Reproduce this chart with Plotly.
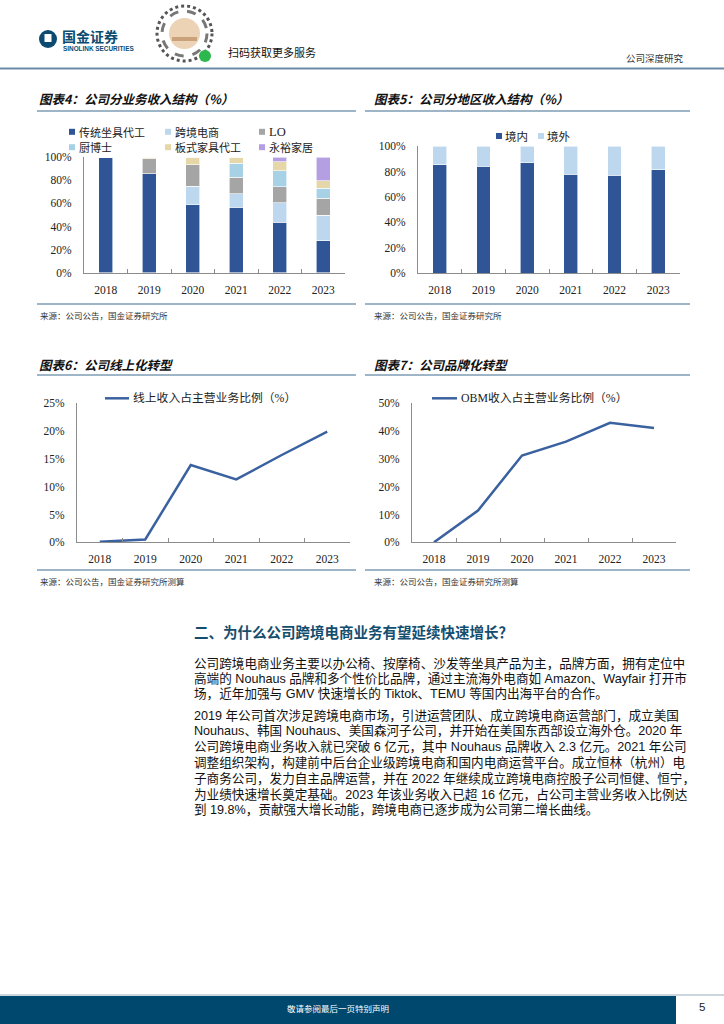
import plotly.graph_objects as go

W, H = 724, 1024

# ---------------- data ----------------
years = ["2018", "2019", "2020", "2021", "2022", "2023"]

seg_names = ["传统坐具代工", "跨境电商", "LO", "厨博士", "板式家具代工", "永裕家居"]
seg_traditional = [100.0, 85.8, 59.0, 56.9, 43.9, 27.5]
seg_crossborder = [0.0, 0.0, 15.9, 11.6, 16.8, 22.2]
seg_lo = [0.0, 13.0, 18.7, 14.2, 13.6, 15.0]
seg_chuboshi = [0.0, 0.0, 0.0, 12.1, 13.9, 8.4]
seg_panel = [0.0, 1.2, 6.4, 5.2, 7.8, 6.4]
seg_yongyu = [0.0, 0.0, 0.0, 0.0, 4.0, 20.5]
seg_colors = ["#2f5597", "#bdd7ee", "#a5a5a5", "#a7d2e6", "#e6d7a9", "#b39fe2"]

region_names = ["境内", "境外"]
region_domestic = [85.3, 84.2, 87.1, 77.9, 77.1, 81.3]
region_overseas = [14.7, 15.8, 12.9, 22.1, 22.9, 18.7]
region_colors = ["#2f5597", "#bdd7ee"]

online_name = "线上收入占主营业务比例（%）"
online_share = [0.1, 0.5, 13.9, 11.3, 15.7, 19.9]

obm_name = "OBM收入占主营业务比例（%）"
obm_share = [0.0, 11.4, 31.2, 36.2, 43.0, 41.1]

line_color = "#3b62a0"

# ---------------- helpers ----------------
def X(px):
    return px / W


def Y(py):
    return 1 - py / H


SERIF = "Liberation Serif, Times New Roman, serif"
CJK = "Noto Sans CJK SC"
BODY = "Liberation Sans, Noto Sans CJK SC"

fig = go.Figure()

seg_values = [seg_traditional, seg_crossborder, seg_lo, seg_chuboshi, seg_panel, seg_yongyu]
for name, vals, col in zip(seg_names, seg_values, seg_colors):
    fig.add_trace(go.Bar(x=years, y=vals, name=name, marker=dict(color=col, line=dict(color="white", width=0.6)),
                         xaxis="x", yaxis="y", showlegend=False))

for name, vals, col in zip(region_names, [region_domestic, region_overseas], region_colors):
    fig.add_trace(go.Bar(x=years, y=vals, name=name, marker=dict(color=col, line=dict(color="white", width=0.6)),
                         xaxis="x2", yaxis="y2", showlegend=False))

fig.add_trace(go.Scatter(x=years, y=online_share, mode="lines", name=online_name,
                         line=dict(color=line_color, width=2.5), xaxis="x3", yaxis="y3", showlegend=False))
fig.add_trace(go.Scatter(x=years, y=obm_share, mode="lines", name=obm_name,
                         line=dict(color=line_color, width=2.5), xaxis="x4", yaxis="y4", showlegend=False))

axis_line = "#8c8c8c"
tickfont = dict(family=SERIF, size=11.5, color="#222")


def xax(x0, x1, anchor):
    return dict(domain=[X(x0), X(x1)], anchor=anchor, type="category", range=[-0.5, 5.5],
                tickson="boundaries", ticks="inside", ticklen=4, tickcolor=axis_line,
                showline=True, linecolor=axis_line, linewidth=1, showgrid=False, zeroline=False,
                tickfont=tickfont, ticklabelstandoff=6, fixedrange=True, automargin=False)


def yax(y0, y1, anchor, rng, dtick):
    return dict(domain=[Y(y0), Y(y1)], anchor=anchor, range=rng, dtick=dtick, ticksuffix="%",
                showline=True, linecolor=axis_line, linewidth=1, showgrid=False, zeroline=False,
                ticks="", tickfont=tickfont, ticklabelstandoff=9, fixedrange=True, automargin=False)


fig.update_layout(
    template="none",
    width=W, height=H, autosize=False,
    margin=dict(l=0, r=0, t=0, b=0, pad=0),
    paper_bgcolor="white", plot_bgcolor="white",
    barmode="stack", bargap=0.68, showlegend=False,
    xaxis=xax(84, 345, "y"), yaxis=yax(272.7, 157.3, "x", [0, 100], 20),
    xaxis2=xax(418, 680, "y2"), yaxis2=yax(273, 146.3, "x2", [0, 100], 20),
    xaxis3=xax(77, 350, "y3"), yaxis3=yax(542.3, 403.3, "x3", [0, 25], 5),
    xaxis4=xax(412, 676, "y4"), yaxis4=yax(542.3, 403.3, "x4", [0, 50], 10),
)

shapes = []
ann = []


def hline(x0, x1, y, color, width):
    shapes.append(dict(type="line", xref="paper", yref="paper", x0=X(x0), x1=X(x1), y0=Y(y), y1=Y(y),
                       line=dict(color=color, width=width)))


def text(x, y, s, size, color="#222", family=CJK, xanchor="left", weight="normal", style="normal"):
    ann.append(dict(xref="paper", yref="paper", x=X(x), y=Y(y), text=s, showarrow=False,
                    xanchor=xanchor, yanchor="middle", borderpad=0,
                    font=dict(family=family, size=size, color=color, weight=weight, style=style)))


def square(x, y, color, s=6):
    shapes.append(dict(type="rect", xref="paper", yref="paper", x0=X(x), x1=X(x + s),
                       y0=Y(y + s / 2), y1=Y(y - s / 2), fillcolor=color, line=dict(width=0)))


# ---------------- header ----------------
shapes.append(dict(type="circle", xref="paper", yref="paper", x0=X(39), x1=X(57), y0=Y(48), y1=Y(30),
                   fillcolor="#0c4a70", line=dict(width=0)))
shapes.append(dict(type="rect", xref="paper", yref="paper", x0=X(44.5), x1=X(51.5), y0=Y(42), y1=Y(34),
                   fillcolor="white", line=dict(width=0)))
text(61, 35.5, "国金证券", 14, color="#0c4a70", weight="bold")
text(61.5, 48.5, "SINOLINK SECURITIES", 6.4, color="#0c4a70", family="Liberation Sans", weight="bold")
shapes.append(dict(type="circle", xref="paper", yref="paper", x0=X(157), x1=X(212), y0=Y(61), y1=Y(6),
                   fillcolor="white", line=dict(color="#555", width=3, dash="dot")))
shapes.append(dict(type="circle", xref="paper", yref="paper", x0=X(162), x1=X(207), y0=Y(56), y1=Y(11),
                   fillcolor="white", line=dict(color="#777", width=3, dash="dash")))
shapes.append(dict(type="circle", xref="paper", yref="paper", x0=X(169), x1=X(200), y0=Y(49), y1=Y(18),
                   fillcolor="#ecd3b6", line=dict(width=0)))
shapes.append(dict(type="rect", xref="paper", yref="paper", x0=X(172), x1=X(197), y0=Y(41), y1=Y(37),
                   fillcolor="#c9a27c", line=dict(width=0)))
shapes.append(dict(type="circle", xref="paper", yref="paper", x0=X(199), x1=X(211), y0=Y(62), y1=Y(50),
                   fillcolor="#2cb84c", line=dict(width=0)))
text(227, 52, "扫码获取更多服务", 11, color="#111")
text(655, 58, "公司深度研究", 9.5, color="#333", xanchor="center")
hline(0, 724, 68.5, "#6a8aa6", 2)

# ---------------- chart titles & frames ----------------
title_kw = dict(size=12.5, color="#111", weight="bold", style="italic")
text(38, 98.5, "图表4：公司分业务收入结构（%）", **title_kw)
text(373, 98.5, "图表5：公司分地区收入结构（%）", **title_kw)
text(38, 364, "图表6：公司线上化转型", **title_kw)
text(373, 364, "图表7：公司品牌化转型", **title_kw)

frame_col = "#3d6d8e"
for (a, b) in [(37, 356), (365, 690)]:
    for yy in (111, 304, 375, 570):
        hline(a, b, yy, frame_col, 1.2)

src_kw = dict(size=8.5, color="#333")
text(39, 314.5, "来源：公司公告，国金证券研究所", **src_kw)
text(373, 314.5, "来源：公司公告，国金证券研究所", **src_kw)
text(39, 580.5, "来源：公司公告，国金证券研究所测算", **src_kw)
text(373, 580.5, "来源：公司公告，国金证券研究所测算", **src_kw)

# ---------------- legends ----------------
leg_pos = [(69, 131.8), (165, 131.8), (259, 131.8), (69, 147.2), (165, 147.2), (259, 147.2)]
for (lx, ly), name, col in zip(leg_pos, seg_names, seg_colors):
    square(lx, ly, col)
    fam = SERIF if name == "LO" else CJK
    sz = 12.5 if name == "LO" else 11
    text(lx + 8.5, ly, name, sz, color="#222", family=fam)

for (lx, ly), name, col in zip([(496, 136), (538, 136)], region_names, region_colors):
    square(lx, ly, col)
    text(lx + 8, ly, name, 11.5, color="#222")

for (x0, x1, ly, name) in [(105, 129, 398.3, online_name), (432, 457, 398.3, obm_name)]:
    shapes.append(dict(type="line", xref="paper", yref="paper", x0=X(x0), x1=X(x1), y0=Y(ly), y1=Y(ly),
                       line=dict(color=line_color, width=2.5)))
    text(x1 + 3, ly, name, 11.8, color="#222", family="Liberation Serif, Noto Sans CJK SC")

# ---------------- section text ----------------
text(193, 631, "二、为什么公司跨境电商业务有望延续快速增长？", 14.5, color="#134e6f", weight="bold")

para1 = [
    "公司跨境电商业务主要以办公椅、按摩椅、沙发等坐具产品为主，品牌方面，拥有定位中",
    "高端的 Nouhaus 品牌和多个性价比品牌，通过主流海外电商如 Amazon、Wayfair 打开市",
    "场，近年加强与 GMV 快速增长的 Tiktok、TEMU 等国内出海平台的合作。",
]
para2 = [
    "2019 年公司首次涉足跨境电商市场，引进运营团队、成立跨境电商运营部门，成立美国",
    "Nouhaus、韩国 Nouhaus、美国森河子公司，并开始在美国东西部设立海外仓。2020 年",
    "公司跨境电商业务收入就已突破 6 亿元，其中 Nouhaus 品牌收入 2.3 亿元。2021 年公司",
    "调整组织架构，构建前中后台企业级跨境电商和国内电商运营平台。成立恒林（杭州）电",
    "子商务公司，发力自主品牌运营，并在 2022 年继续成立跨境电商控股子公司恒健、恒宁，",
    "为业绩快速增长奠定基础。2023 年该业务收入已超 16 亿元，占公司主营业务收入比例达",
    "到 19.8%，贡献强大增长动能，跨境电商已逐步成为公司第二增长曲线。",
]
for i, line in enumerate(para1):
    text(193, 663.5 + i * 14.8, line, 12.6, color="#111", family=BODY)
for i, line in enumerate(para2):
    text(193, 715.5 + i * 15.7, line, 12.6, color="#111", family=BODY)

# ---------------- footer ----------------
hline(0, 724, 995, "#b9c7d3", 1.5)
shapes.append(dict(type="rect", xref="paper", yref="paper", x0=0, x1=X(676), y0=0, y1=Y(996),
                   fillcolor="#00486e", line=dict(width=0)))
text(338, 1008, "敬请参阅最后一页特别声明", 8.5, color="white", xanchor="center")
text(702, 1007, "5", 11.5, color="#222", family="Liberation Sans", xanchor="center")

fig.update_layout(shapes=shapes, annotations=ann)
fig.write_html("out.html", config={"displayModeBar": False},
               post_script="document.body.style.margin='0';document.body.style.overflow='hidden';")
